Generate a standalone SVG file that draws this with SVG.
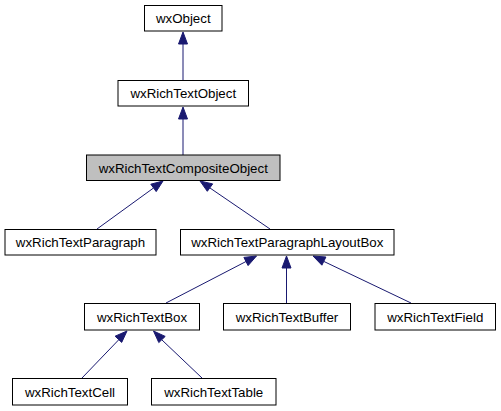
<svg xmlns="http://www.w3.org/2000/svg" width="501" height="411" viewBox="0 0 501 411">
<style>
.n rect{fill:#ffffff;stroke:#000000;stroke-width:1}
.n.cur rect{fill:#bfbfbf}
.n text{font-family:"Liberation Sans",Arial,Helvetica,sans-serif;font-size:13.3px;fill:#000000;text-anchor:middle}
.e line{stroke:#191970;stroke-width:1}
.e polygon{fill:#191970;stroke:#191970;stroke-width:1}
</style>
<rect width="501" height="411" fill="#ffffff"/>
<g id="edges" class="e">
<line x1="183" y1="44" x2="183" y2="80"/>
<polygon points="183,32 178.5,44 187.5,44"/>
<line x1="183" y1="119" x2="183" y2="155"/>
<polygon points="183,107 178.5,119 187.5,119"/>
<line x1="153.5" y1="188" x2="97" y2="229"/>
<polygon points="163,181 150.8,184.2 156.2,191.6"/>
<line x1="210" y1="188" x2="270" y2="229"/>
<polygon points="200,181 207.3,191.3 212.7,183.9"/>
<line x1="246" y1="261.5" x2="166" y2="303"/>
<polygon points="256.5,256 243.9,257.4 248.1,265.6"/>
<line x1="286.5" y1="268" x2="286.5" y2="303"/>
<polygon points="286.5,256 282,268 291,268"/>
<line x1="324" y1="261.5" x2="411" y2="303"/>
<polygon points="313,256 321.9,265.2 325.9,257"/>
<line x1="118.5" y1="340" x2="82" y2="378"/>
<polygon points="127,331 115.1,336.2 121.7,342.4"/>
<line x1="162" y1="340" x2="202" y2="378"/>
<polygon points="153.5,331 158.8,342.6 165.2,336.4"/>
</g>
<g id="wxObject" class="n"><rect x="144.5" y="5.5" width="77.5" height="25.5"/><text x="183.25" y="23">wxObject</text></g>
<g id="wxRichTextObject" class="n"><rect x="118" y="80.5" width="130.5" height="25.5"/><text x="183.25" y="98">wxRichTextObject</text></g>
<g id="wxRichTextCompositeObject" class="n cur"><rect x="86.5" y="155" width="193.5" height="25.5"/><text x="183.25" y="172.5">wxRichTextCompositeObject</text></g>
<g id="wxRichTextParagraph" class="n"><rect x="5" y="229.5" width="151" height="25.5"/><text x="80.5" y="247">wxRichTextParagraph</text></g>
<g id="wxRichTextParagraphLayoutBox" class="n"><rect x="180.5" y="229.5" width="213.5" height="25.5"/><text x="287.25" y="247">wxRichTextParagraphLayoutBox</text></g>
<g id="wxRichTextBox" class="n"><rect x="84.5" y="303.5" width="115" height="26.5"/><text x="142" y="321.5">wxRichTextBox</text></g>
<g id="wxRichTextBuffer" class="n"><rect x="223.5" y="303.5" width="127" height="26.5"/><text x="287" y="321.5">wxRichTextBuffer</text></g>
<g id="wxRichTextField" class="n"><rect x="375" y="303.5" width="120.5" height="26.5"/><text x="435.25" y="321.5">wxRichTextField</text></g>
<g id="wxRichTextCell" class="n"><rect x="12.5" y="378.5" width="115" height="26.5"/><text x="70" y="396.5">wxRichTextCell</text></g>
<g id="wxRichTextTable" class="n"><rect x="151.5" y="378.5" width="124.5" height="26.5"/><text x="213.75" y="396.5">wxRichTextTable</text></g>
</svg>
